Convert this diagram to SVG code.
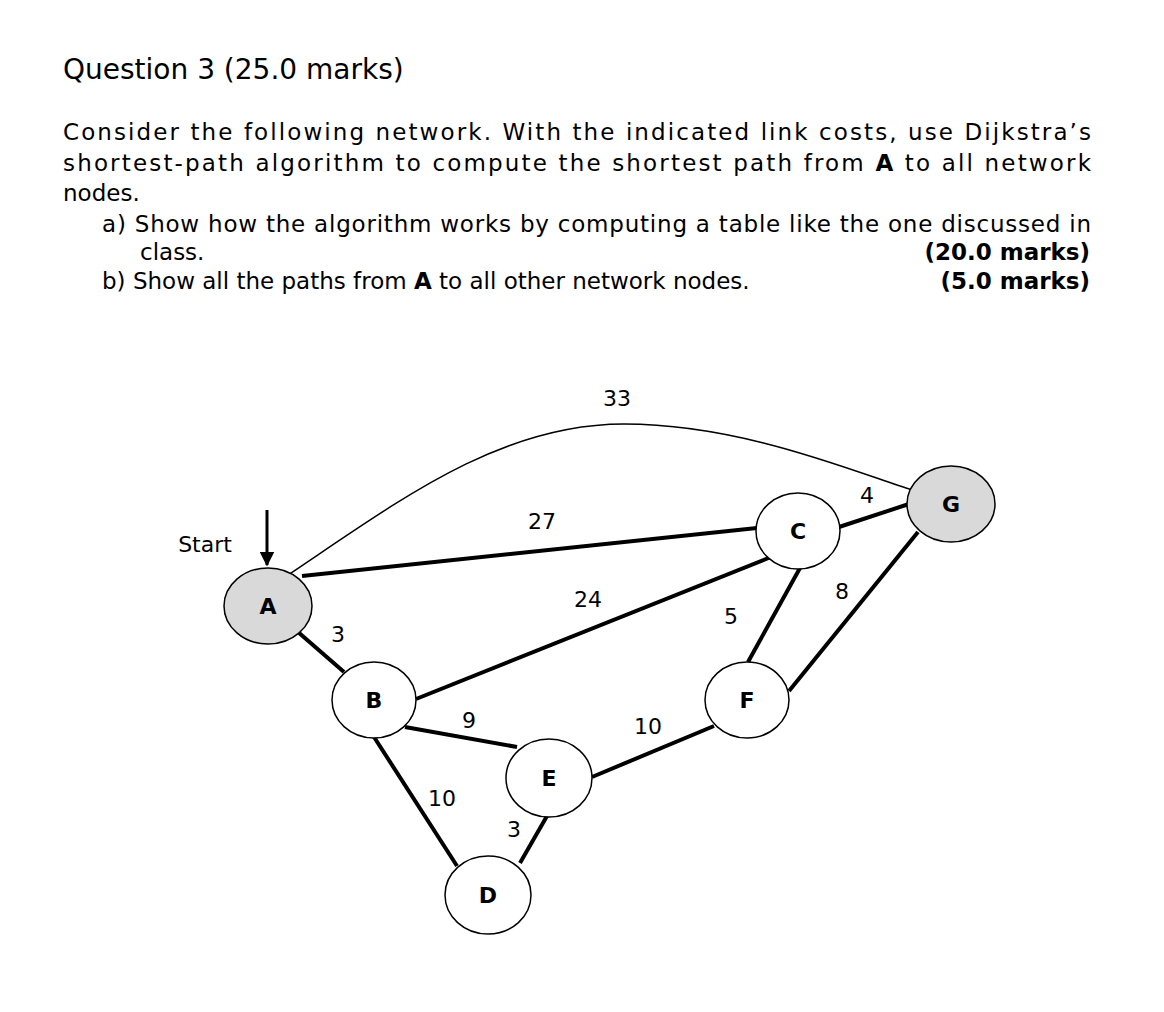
<svg xmlns="http://www.w3.org/2000/svg" width="1164" height="1012" viewBox="0 0 1164 1012">
<style>
text{font-family:"DejaVu Sans","Liberation Sans",sans-serif;fill:#000}
.t{font-size:23px}
.l{font-size:22px}
.n{font-size:22px;font-weight:bold;text-anchor:middle}
.e{stroke:#000;stroke-width:4;fill:none}
ellipse{stroke:#000;stroke-width:1.5}
</style>
<defs><marker id="ar" viewBox="0 0 10 10" refX="9" refY="5" markerWidth="5" markerHeight="5" orient="auto"><path d="M0,0L10,5L0,10z" fill="#000"/></marker></defs>
<rect width="1164" height="1012" fill="#fff"/>
<text x="63" y="79" style="font-size:28px">Question 3 (25.0 marks)</text>
<text class="t" x="63" y="140" textLength="1028" lengthAdjust="spacing">Consider the following network. With the indicated link costs, use Dijkstra’s</text>
<text class="t" x="63" y="171" textLength="1028" lengthAdjust="spacing">shortest-path algorithm to compute the shortest path from <tspan font-weight="bold">A</tspan> to all network</text>
<text class="t" x="63" y="201">nodes.</text>
<text class="t" x="102" y="232" textLength="989" lengthAdjust="spacing">a) Show how the algorithm works by computing a table like the one discussed in</text>
<text class="t" x="140" y="260">class.</text>
<text class="t" x="1090" y="260" text-anchor="end" font-weight="bold">(20.0 marks)</text>
<text class="t" x="102" y="289">b) Show all the paths from <tspan font-weight="bold">A</tspan> to all other network nodes.</text>
<text class="t" x="1090" y="289" text-anchor="end" font-weight="bold">(5.0 marks)</text>
<g id="connectors">
<path d="M288,575 C400,500 500,424 624,424 C740,424 850,470 912,490" stroke="#000" stroke-width="1.5" fill="none"/>
<line class="e" x1="302" y1="576" x2="757" y2="528"/>
<line class="e" x1="298" y1="632" x2="344" y2="672"/>
<line class="e" x1="416" y1="699" x2="771" y2="557"/>
<line class="e" x1="405" y1="727" x2="517" y2="747"/>
<line class="e" x1="374" y1="737" x2="457" y2="866"/>
<line class="e" x1="547" y1="816" x2="520" y2="863"/>
<line class="e" x1="592" y1="777" x2="714" y2="726"/>
<line class="e" x1="800" y1="568" x2="748" y2="662"/>
<line class="e" x1="839" y1="527" x2="909" y2="504"/>
<line class="e" x1="918" y1="532" x2="789" y2="691"/>
<line x1="267" y1="510" x2="267" y2="565" stroke="#000" stroke-width="3" marker-end="url(#ar)"/>
<text class="l" x="617" y="406" text-anchor="middle">33</text>
<text class="l" x="542" y="529" text-anchor="middle">27</text>
<text class="l" x="588" y="607" text-anchor="middle">24</text>
<text class="l" x="867" y="503" text-anchor="middle">4</text>
<text class="l" x="842" y="599" text-anchor="middle">8</text>
<text class="l" x="731" y="624" text-anchor="middle">5</text>
<text class="l" x="338" y="642" text-anchor="middle">3</text>
<text class="l" x="469" y="728" text-anchor="middle">9</text>
<text class="l" x="648" y="734" text-anchor="middle">10</text>
<text class="l" x="442" y="806" text-anchor="middle">10</text>
<text class="l" x="514" y="837" text-anchor="middle">3</text>
<text class="l" x="205" y="552" text-anchor="middle">Start</text>
</g>
<g id="A"><ellipse cx="268" cy="606" rx="44" ry="38" fill="#d9d9d9"/><text class="n" x="268" y="614">A</text></g>
<g id="B"><ellipse cx="374" cy="700" rx="42" ry="38" fill="#fff"/><text class="n" x="374" y="708">B</text></g>
<g id="C"><ellipse cx="798" cy="531" rx="42" ry="38" fill="#fff"/><text class="n" x="798" y="539">C</text></g>
<g id="G"><ellipse cx="951" cy="504" rx="44" ry="38" fill="#d9d9d9"/><text class="n" x="951" y="512">G</text></g>
<g id="F"><ellipse cx="747" cy="700" rx="42" ry="38" fill="#fff"/><text class="n" x="747" y="708">F</text></g>
<g id="E"><ellipse cx="549" cy="778" rx="43" ry="39" fill="#fff"/><text class="n" x="549" y="786">E</text></g>
<g id="D"><ellipse cx="488" cy="895" rx="43" ry="39" fill="#fff"/><text class="n" x="488" y="903">D</text></g>
</svg>
